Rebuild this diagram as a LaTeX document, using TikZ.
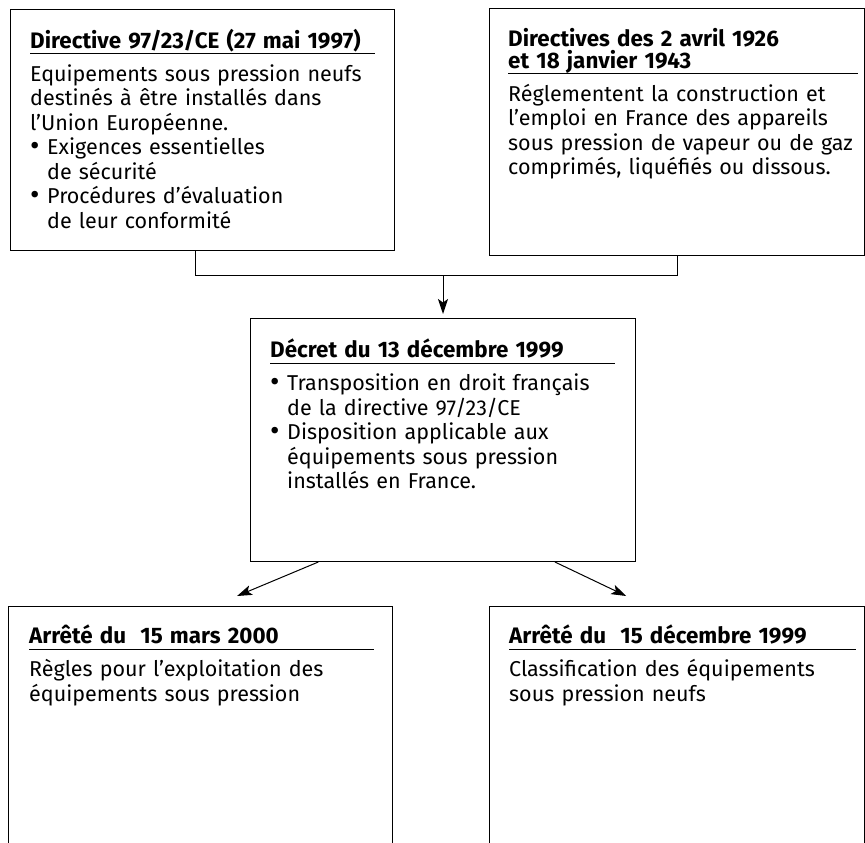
\documentclass[tikz,border=0pt]{standalone}
\usepackage{fontspec}
\setmainfont{Fira Sans}
\usetikzlibrary{arrows.meta, positioning, calc}

\newcommand{\corps}{\fontsize{21.5}{24.5}\selectfont\parindent=0pt}
\newcommand{\titre}[1]{{\fontsize{22.4}{22}\selectfont\bfseries\rule{0pt}{18pt}#1\strut\par}\kern-1.6pt\hrule height .8pt\kern2.7pt\prevdepth=0pt}
\newcommand{\puce}{\par\makebox[17pt][l]{\raisebox{-.5pt}{\scalebox{1.35}{•}}}}
\newcommand{\suite}{\newline\hspace*{17pt}}

\begin{document}
\begin{tikzpicture}[
    x=1pt, y=-1pt,
    cadre/.style={draw, line width=1pt, inner sep=0pt, anchor=north west},
    texte/.style={anchor=north west, inner sep=0pt, align=left, font=\corps},
    lien/.style={line width=1pt},
    fleche/.style={line width=1pt, -{Stealth[length=15pt, width=10pt, inset=3.5pt]}}
]

% page frame
\clip (0,0) rectangle (865,843);

% ===== CADRES =====
\node[cadre, minimum width=384, minimum height=241] (dir) at (10,9) {};
\node[cadre, minimum width=375, minimum height=247] (decl) at (489,8) {};
\node[cadre, minimum width=385, minimum height=243] (decret) at (250,318) {};
% bottom boxes run past the lower edge
\node[cadre, minimum width=384, minimum height=300] (mars) at (8,606) {};
\node[cadre, minimum width=375, minimum height=300] (dec) at (489,606) {};

% ===== TEXTES =====
\node[texte, text width=345] (dir-t) at ([shift={(20,20)}]dir.north west) {%
  \titre{Directive 97/23/CE (27 mai 1997)}
  Equipements sous pression neufs\\
  destinés à être installés dans\\
  l’Union Européenne.
  \puce Exigences essentielles\suite de sécurité
  \puce Procédures d’évaluation\suite de leur conformité};

\node[texte, text width=350] (decl-t) at ([shift={(19,20)}]decl.north west) {%
  \titre{Directives des 2 avril 1926\\ et 18 janvier 1943}
  Réglementent la construction et\\
  l’emploi en France des appareils\\
  sous pression de vapeur ou de gaz\\
  comprimés, liquéfiés ou dissous.};

\node[texte, text width=345] (decret-t) at ([shift={(20,21)}]decret.north west) {%
  \titre{Décret du 13 décembre 1999}
  \puce Transposition en droit français\suite de la directive 97/23/CE
  \puce Disposition applicable aux\suite équipements sous pression\suite installés en France.};

\node[texte, text width=345] (mars-t) at ([shift={(21,19)}]mars.north west) {%
  \titre{Arrêté du\ \ 15 mars 2000}
  Règles pour l’exploitation des\\
  équipements sous pression};

\node[texte, text width=347] (dec-t) at ([shift={(20,19)}]dec.north west) {%
  \titre{Arrêté du\ \ 15 décembre 1999}
  Classification des équipements\\
  sous pression neufs};

% ===== LIENS =====
\draw[lien] ([xshift=-7pt]dir.south) -- ++(0,24) coordinate (jonction) -| (decl.south);
\draw[fleche] (jonction -| decret.north) -- ([yshift=4pt]decret.north);

\draw[fleche] ($(decret.south west)!.177!(decret.south east)$) -- ($(mars.north west)!.595!(mars.north east)+(0,-10)$);
\draw[fleche] ($(decret.south west)!.79!(decret.south east)$) -- ($(dec.north west)!.365!(dec.north east)+(0,-10)$);

\end{tikzpicture}
\end{document}
